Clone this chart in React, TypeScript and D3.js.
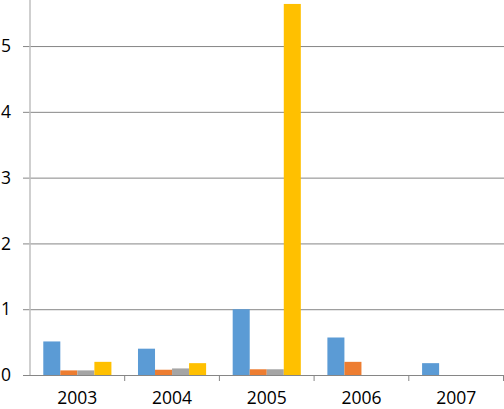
import { useEffect, useRef } from "react";
import * as d3 from "d3";

const years = ["2003", "2004", "2005", "2006", "2007"];
const seriesA = [0.51, 0.4, 1.0, 0.57, 0.18];
const seriesB = [0.07, 0.08, 0.087, 0.2, 0];
const seriesC = [0.07, 0.1, 0.087, 0, 0];
const seriesD = [0.2, 0.18, 5.64, 0, 0];
const yTicks = [0, 1, 2, 3, 4, 5];
const colors = ["#5B9BD5", "#ED7D31", "#A5A5A5", "#FFC000"];

const App = () => {
  const ref = useRef<SVGSVGElement>(null);

  useEffect(() => {
    const width = 504;
    const height = 409;
    const margin = { top: 0, right: 0.5, bottom: 34, left: 30 };
    const series = [seriesA, seriesB, seriesC, seriesD];

    const svg = d3.select(ref.current).attr("width", width).attr("height", height);
    svg.selectAll("*").remove();

    const x = d3
      .scaleBand()
      .domain(years)
      .range([margin.left, width - margin.right]);

    const inner = d3
      .scaleBand()
      .domain(d3.range(series.length).map(String))
      .range([0, x.bandwidth()])
      .paddingInner(0)
      .paddingOuter(0.78);

    const y = d3
      .scaleLinear()
      .domain([0, 5.7])
      .range([height - margin.bottom, margin.top]);

    // gridlines + y labels
    const yAxis = svg
      .append("g")
      .attr("transform", `translate(${margin.left},0)`)
      .call(
        d3
          .axisLeft(y)
          .tickValues(yTicks)
          .tickSize(7)
          .tickPadding(12)
          .tickFormat(d3.format("d"))
      );
    yAxis.select(".domain").remove();
    yAxis.selectAll(".tick line").attr("stroke", "#868686");
    yAxis
      .selectAll(".tick")
      .append("line")
      .attr("x2", width - margin.left)
      .attr("stroke", "#868686");
    yAxis
      .selectAll("text")
      .attr("font-family", "Open Sans, sans-serif")
      .attr("font-size", 17.5)
      .attr("fill", "#000");

    // vertical axis line
    svg
      .append("line")
      .attr("x1", margin.left)
      .attr("x2", margin.left)
      .attr("y1", 0)
      .attr("y2", y(0))
      .attr("stroke", "#BFBFBF")
      .attr("stroke-width", 1.5);

    // bars
    series.forEach((vals, i) => {
      svg
        .append("g")
        .attr("fill", colors[i])
        .selectAll("rect")
        .data(vals)
        .join("rect")
        .attr("x", (_, j) => x(years[j])! + inner(String(i))!)
        .attr("width", inner.bandwidth())
        .attr("y", (d) => y(d))
        .attr("height", (d) => y(0) - y(d));
    });

    // x axis
    const xAxis = svg
      .append("g")
      .attr("transform", `translate(0,${y(0)})`)
      .call(d3.axisBottom(x).tickSize(0).tickPadding(17));
    xAxis.select(".domain").attr("stroke", "#868686");
    xAxis
      .selectAll("text")
      .attr("font-family", "Open Sans, sans-serif")
      .attr("font-size", 17.5)
      .attr("fill", "#000");
    xAxis
      .selectAll(".sep")
      .data(years.slice(1).concat(["end"]))
      .join("line")
      .attr("class", "sep")
      .attr("x1", (d) => (d === "end" ? width - margin.right : x(d)!))
      .attr("x2", (d) => (d === "end" ? width - margin.right : x(d)!))
      .attr("y1", 0)
      .attr("y2", 6)
      .attr("stroke", "#868686");
  }, []);

  return <svg ref={ref} style={{ position: "absolute", left: 0, top: 0 }} />;
};

export default App;
